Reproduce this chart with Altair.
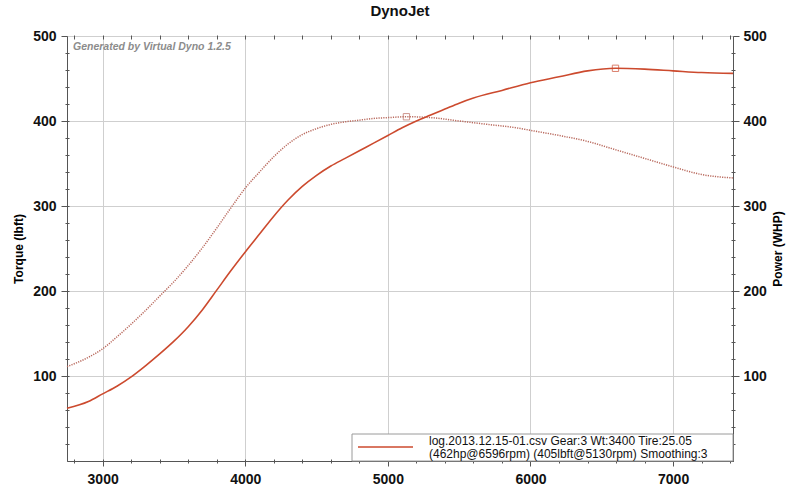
import altair as alt
import pandas as pd

# ---- data ----
rpm_tq = [2750, 2900, 3000, 3100, 3200, 3300, 3400, 3500, 3600, 3700, 3800, 3900,
          4000, 4100, 4200, 4300, 4400, 4500, 4600, 4700, 4800, 4900, 5000, 5130,
          5300, 5500, 5700, 5900, 6000, 6200, 6400, 6600, 6800, 7000, 7200, 7420]
torque = [111, 122, 132, 146, 161, 177, 194, 211, 230, 251, 274, 298,
          321, 340, 358, 373, 384, 391, 396, 399, 401, 403, 404, 405,
          404, 400, 396, 392, 389, 383, 376, 366, 356, 346, 337, 333]

rpm_hp = [2750, 2900, 3000, 3100, 3200, 3300, 3400, 3500, 3600, 3700, 3800, 3900,
          4000, 4100, 4200, 4300, 4400, 4500, 4600, 4700, 4800, 4900, 5000, 5100,
          5200, 5300, 5400, 5500, 5600, 5800, 6000, 6200, 6400, 6596, 6800, 7000,
          7200, 7420]
power = [62, 70, 79, 88, 99, 112, 126, 141, 158, 178, 201, 224,
         246, 267, 288, 307, 323, 336, 347, 356, 365, 374, 383, 392,
         400, 407, 414, 421, 427, 436, 445, 452, 459, 462, 461, 459,
         457, 456]

peak_rpm = [5130, 6596]
peak_val = [405, 462]
peak_kind = ["torque", "power"]

x_major = [3000, 4000, 5000, 6000, 7000]
x_minor = list(range(2800, 7401, 200))
y_major = [100, 200, 300, 400, 500]
y_minor = list(range(20, 500, 20))

legend_line1 = "log.2013.12.15-01.csv Gear:3 Wt:3400 Tire:25.05"
legend_line2 = "(462hp@6596rpm) (405lbft@5130rpm) Smoothing:3"
watermark = "Generated by Virtual Dyno 1.2.5"
title = "DynoJet"

# ---- tables ----
tq_df = pd.DataFrame({"rpm": rpm_tq, "val": torque})
hp_df = pd.DataFrame({"rpm": rpm_hp, "val": power})
pk_df = pd.DataFrame({"rpm": peak_rpm, "val": peak_val, "kind": peak_kind})

FONT = "Liberation Sans"
W, H = 666, 425
LINE = "#cc4a2e"
DOT = "#b96a5e"

xs = alt.Scale(domain=[2750, 7420], nice=False, zero=False)
ys = alt.Scale(domain=[0, 500], nice=False)

common_axis = dict(labelFont=FONT, titleFont=FONT, labelColor="#111", domainColor="#555",
                   tickColor="#555")

x_main = alt.Axis(values=x_major, format="d", grid=True, gridColor="#cfcfcf", tickSize=5,
                  labelFontSize=14, labelFontWeight="bold", labelPadding=6,
                  title=None, domain=True, orient="bottom", **common_axis)
x_min_bottom = alt.Axis(values=x_minor, grid=False, labels=False, tickSize=4, offset=-2,
                        domain=False, title=None, orient="bottom", **common_axis)
x_min_top = alt.Axis(values=x_minor + x_major, grid=False, labels=False, tickSize=4, offset=-3,
                     domain=False, title=None, orient="top", **common_axis)

y_left = alt.Axis(values=y_major, grid=True, gridColor="#cfcfcf", tickSize=6,
                  labelFontSize=14, labelFontWeight="bold", labelPadding=5,
                  title="Torque (lbft)", titleFontSize=12, titleFontWeight="bold",
                  titlePadding=7, orient="left", **common_axis)
y_right = alt.Axis(values=y_major, grid=False, tickSize=6,
                   labelFontSize=14, labelFontWeight="bold", labelPadding=4,
                   title="Power (WHP)", titleFontSize=12, titleFontWeight="bold",
                   titlePadding=18, titleAngle=-90, orient="right", **common_axis)
y_left_min = alt.Axis(values=y_minor, grid=False, labels=False, tickSize=4, offset=-2,
                      domain=False, title=None, orient="left", **common_axis)
y_right_min = alt.Axis(values=y_minor, grid=False, labels=False, tickSize=4, offset=-2,
                       domain=False, title=None, orient="right", **common_axis)

torque_line = alt.Chart(tq_df).mark_line(
    color=DOT, strokeWidth=1.5, strokeDash=[1.2, 1.2], interpolate="monotone"
).encode(
    x=alt.X("rpm:Q", scale=xs, axis=x_main),
    y=alt.Y("val:Q", scale=ys, axis=y_left),
)

power_line = alt.Chart(hp_df).mark_line(
    color=LINE, strokeWidth=1.6, interpolate="monotone"
).encode(
    x=alt.X("rpm:Q", scale=xs, axis=x_min_top),
    y=alt.Y("val:Q", scale=ys, axis=y_right),
)

peaks_tq = alt.Chart(pk_df).transform_filter("datum.kind == 'torque'").mark_point(
    shape="square", size=40, filled=False, color=DOT, strokeWidth=1
).encode(
    x=alt.X("rpm:Q", scale=xs, axis=x_min_bottom),
    y=alt.Y("val:Q", scale=ys, axis=y_left_min),
)

peaks_hp = alt.Chart(pk_df).transform_filter("datum.kind == 'power'").mark_point(
    shape="square", size=40, filled=False, color=LINE, strokeWidth=1
).encode(
    x=alt.X("rpm:Q", scale=xs, axis=None),
    y=alt.Y("val:Q", scale=ys, axis=y_right_min),
)

one = alt.Data(values=[{"a": 1}])

legend_box = alt.Chart(one).mark_rect(
    fill="white", stroke="#9a9a9a", strokeWidth=1
).encode(
    x=alt.value(285), x2=alt.value(W), y=alt.value(398), y2=alt.value(H)
)
legend_rule = alt.Chart(one).mark_rule(color=LINE, strokeWidth=1.5).encode(
    x=alt.value(291), x2=alt.value(346), y=alt.value(411)
)
legend_t1 = alt.Chart(one).mark_text(
    align="left", baseline="middle", font=FONT, fontSize=12, color="#111"
).encode(x=alt.value(362), y=alt.value(404.5), text=alt.value(legend_line1))
legend_t2 = alt.Chart(one).mark_text(
    align="left", baseline="middle", font=FONT, fontSize=12, color="#111"
).encode(x=alt.value(362), y=alt.value(417.5), text=alt.value(legend_line2))

wm = alt.Chart(one).mark_text(
    align="left", baseline="middle", font=FONT, fontSize=10.5, fontStyle="italic",
    fontWeight="bold", color="#8c8c8c"
).encode(x=alt.value(6), y=alt.value(11), text=alt.value(watermark))

chart = alt.layer(
    torque_line, power_line, peaks_tq, peaks_hp,
    legend_box, legend_rule, legend_t1, legend_t2, wm
).resolve_axis(
    x="independent", y="independent"
).properties(
    width=W, height=H,
    title=alt.TitleParams(title, font=FONT, fontSize=15, fontWeight="bold",
                          color="#111", offset=10, anchor="middle"),
    autosize=alt.AutoSizeParams(type="none"),
    padding={"left": 67, "top": 36, "right": 67, "bottom": 25},
    background="white",
).configure_view(
    stroke="#808080", strokeWidth=1
)

chart.save("out.html", embed_options={"renderer": "svg", "actions": False})
